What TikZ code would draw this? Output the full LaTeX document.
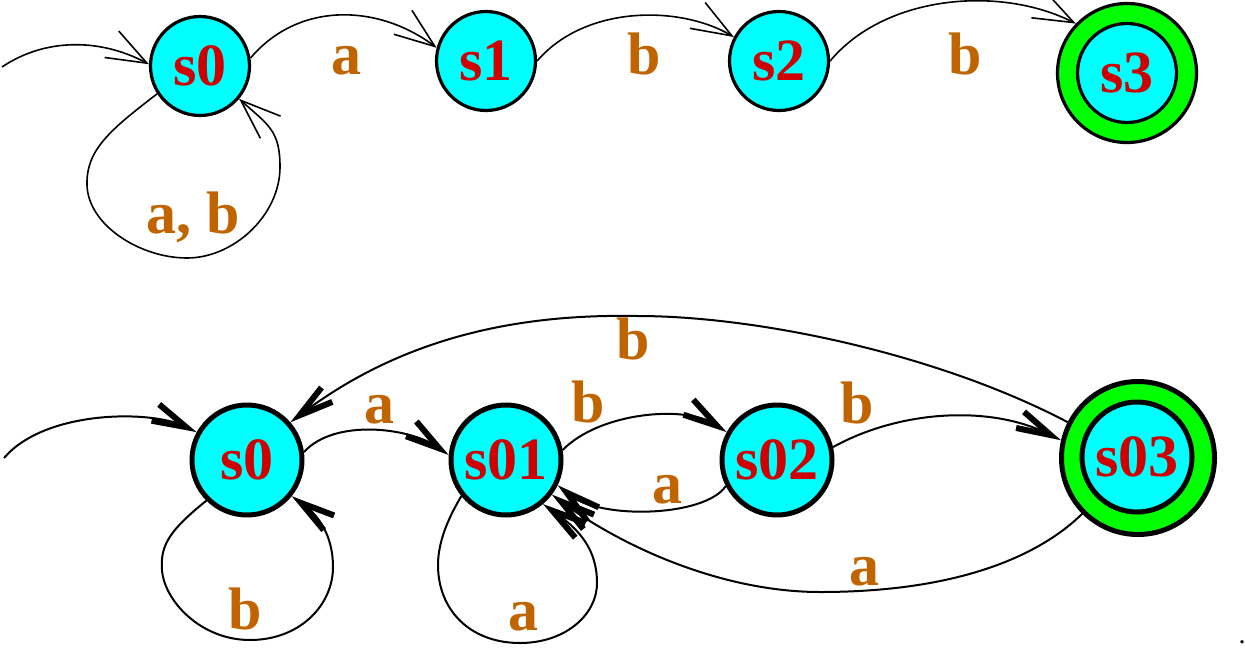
\documentclass[tikz,border=0pt]{standalone}
\usepackage{fontspec}
\setmainfont{Liberation Serif}
\usetikzlibrary{arrows.meta}
\definecolor{stcyan}{RGB}{0,255,255}
\definecolor{stgreen}{RGB}{0,255,0}
\definecolor{stred}{RGB}{208,0,0}
\definecolor{lblbrown}{RGB}{192,100,0}
\begin{document}
\begin{tikzpicture}[x=0.5pt,y=-0.5pt,
  topstate/.style={circle, draw=black, line width=1.6pt, fill=stcyan, minimum size=49.5pt, inner sep=0pt, font=\fontsize{30}{30}\selectfont\bfseries, text=stred},
  topfinal/.style={circle, draw=black, line width=1.6pt, fill=stgreen, minimum size=69.5pt, inner sep=0pt},
  botstate/.style={circle, draw=black, line width=2.5pt, fill=stcyan, minimum size=55pt, inner sep=0pt, font=\fontsize{30}{30}\selectfont\bfseries, text=stred},
  botfinal/.style={circle, draw=black, line width=2.5pt, fill=stgreen, minimum size=76.5pt, inner sep=0pt},
  lbl/.style={font=\fontsize{30}{30}\selectfont\bfseries, text=lblbrown, anchor=base, inner sep=0pt},
  topedge/.style={line width=0.8pt, -{Straight Barb[length=20pt,width=15pt,line width=0.8pt]}},
  botedge/.style={line width=1pt, -{Straight Barb[length=17pt,width=9pt,line width=3pt]}},
]
\useasboundingbox (0,0) rectangle (1245,647);

% top automaton
\node[topstate] (s0) at (200,66) {s0};
\node[topstate] (s1) at (486,61) {s1};
\node[topstate] (s2) at (779,61) {s2};
\node[topfinal] (s3) at (1127,73) {};
\node[topstate] (s3in) at (1127,73) {s3};
\coordinate (i0) at (2,67);

\draw[topedge] (i0) .. controls (45,38) and (100,38) .. (s0.178);
\draw[topedge] (s0.9) .. controls (300,0) and (380,5) .. (s1.165);
\draw[topedge] (s1.0) .. controls (585,5) and (680,5) .. (s2.152);
\draw[topedge] (s2.0) .. controls (885,-5) and (1000,-15) .. (s3.136);
\draw[topedge] (s0.213) .. controls (110,130) and (86,150) .. (87,185)
  .. controls (88,225) and (140,258) .. (187,258)
  .. controls (234,258) and (280,215) .. (280,167)
  .. controls (280,130) and (268,125) .. (s0.320);

\node[lbl] (la1) at (346,75) {a};
\node[lbl] (lb1) at (644,75) {b};
\node[lbl] (lb2) at (965,75) {b};
\node[lbl] (lab) at (193,233) {a, b};

% bottom automaton
\node[botstate] (t0) at (247,460) {s0};
\node[botstate] (t01) at (506,460) {s01};
\node[botstate] (t02) at (777,460) {s02};
\node[botfinal] (t03) at (1138,458) {};
\node[botstate] (t03in) at (1137,457) {s03};
\coordinate (j0) at (4,458);

\draw[botedge] (j0) .. controls (45,410) and (150,410) .. (t0.151);
\draw[botedge] (t0.8) .. controls (335,418) and (410,428) .. (t01.175);
\draw[botedge] (t01.10) .. controls (600,412) and (685,405) .. (t02.151);
\draw[botedge] (t02.207) .. controls (705,517) and (600,520) .. (t01.334);
\draw[botedge] (t02.13) .. controls (900,410) and (990,405) .. (t03.167);
\draw[botedge] (t03.153) .. controls (940,355) and (760,316) .. (637,316)
  .. controls (530,314) and (410,332) .. (t0.41);
\draw[botedge] (t03.225) .. controls (1040,555) and (960,592) .. (820,592)
  .. controls (720,592) and (620,545) .. (t01.323);
\draw[botedge] (t0.225) .. controls (170,530) and (160,545) .. (162,570)
  .. controls (164,600) and (200,640) .. (250,640)
  .. controls (300,640) and (333,605) .. (333,567)
  .. controls (333,535) and (318,515) .. (t0.321);
\draw[botedge] (t01.219) .. controls (450,515) and (438,540) .. (438,565)
  .. controls (438,610) and (470,643) .. (520,643)
  .. controls (565,643) and (597,615) .. (597,583)
  .. controls (597,550) and (580,530) .. (t01.310);

\node[lbl] (ma1) at (379,423) {a};
\node[lbl] (mb1) at (588,422) {b};
\node[lbl] (ma2) at (667,503) {a};
\node[lbl] (mb2) at (857,423) {b};
\node[lbl] (mb3) at (633,359) {b};
\node[lbl] (ma3) at (864,585) {a};
\node[lbl] (mb4) at (245,629) {b};
\node[lbl] (ma4) at (523,630) {a};

\node[font=\fontsize{14}{14}\selectfont, inner sep=0pt] (dot) at (1242,642) {.};
\end{tikzpicture}
\end{document}
